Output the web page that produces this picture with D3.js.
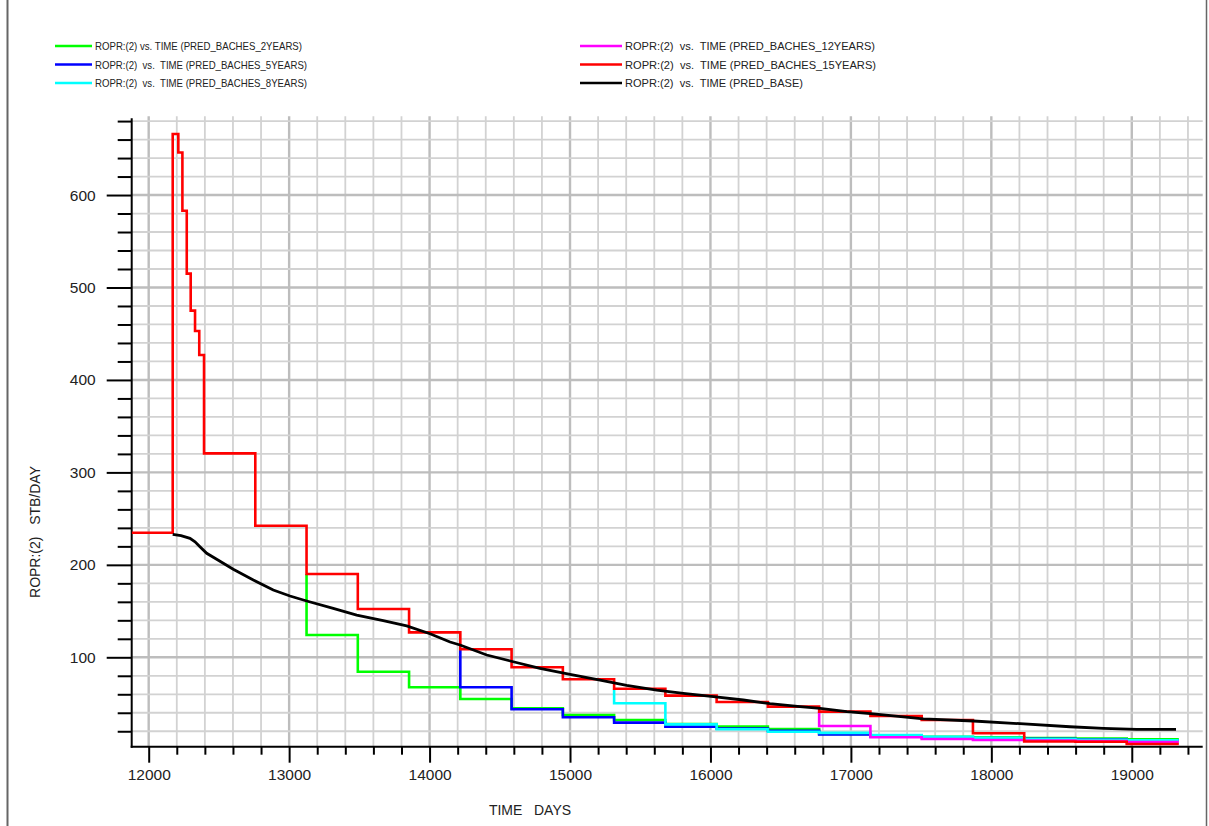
<!DOCTYPE html>
<html><head><meta charset="utf-8">
<script src="https://cdn.jsdelivr.net/npm/d3@7"></script>
<style>
body{margin:0;background:#fff}
svg{display:block}
text{font-family:"Liberation Sans",Arial,sans-serif;fill:#222}
</style>
</head><body>
<svg id="c" width="1209" height="826"></svg>
<script>
// ---------- DATA ----------
const seriesNames = [
  "ROPR:(2) vs. TIME (PRED_BACHES_2YEARS)",
  "ROPR:(2)  vs.  TIME (PRED_BACHES_5YEARS)",
  "ROPR:(2)  vs.  TIME (PRED_BACHES_8YEARS)",
  "ROPR:(2)  vs.  TIME (PRED_BACHES_12YEARS)",
  "ROPR:(2)  vs.  TIME (PRED_BACHES_15YEARS)",
  "ROPR:(2)  vs.  TIME (PRED_BASE)"
];
const seriesColors = ["#00ff00","#0000ff","#00ffff","#ff00ff","#ff0000","#000000"];

const xTickValues = [12000,13000,14000,15000,16000,17000,18000,19000];
const yTickValues = [100,200,300,400,500,600];
const xTitle = "TIME   DAYS";
const yTitle = "ROPR:(2)   STB/DAY";

const endDay = 19335;

// 2 years (step series; value holds from day onward)
const days2y  = [13124,13124,13489,13854,14219,14584,14949,15314,15679,16044,16409,16774,17139,17504,17869,18234,18599,18964];
const rate2y  = [190.1,124.1,84.4,67.6,54.9,44.8,37.6,32.2,27.9,25.0,22.3,17.1,15.2,14.1,13.4,12.6,12.0,11.3];
// 5 years
const days5y  = [14219,14219,14584,14949,15314,15679,16044,16409,16774,17139,17504,17869,18234,18599,18964];
const rate5y  = [108.7,67.6,43.8,35.1,29.3,25.0,23.0,20.5,16.5,14.5,13.5,12.5,11.8,11.0,10.3];
// 8 years
const days8y  = [15314,15314,15679,16044,16409,16774,17139,17504,17869,18234,18599,18964];
const rate8y  = [66.0,50.3,27.5,22.1,19.5,18.3,15.8,14.0,12.8,11.5,10.8,10.2];
// 12 years
const days12y = [16774,16774,17139,17504,17869,18234,18599,18964];
const rate12y = [41.2,25.7,13.5,11.6,10.6,10.0,9.5,8.2];
// 15 years
const days15y = [11879,12171,12211,12240,12271,12299,12330,12360,12394,12759,13124,13489,13854,14219,14584,14949,15314,15679,16044,16409,16774,17139,17504,17869,18234,18599,18964];
const rate15y = [234.7,666,646,583,515,475,453,427,320.6,242.3,190.1,152.2,127.0,108.7,89.2,76.2,66.0,58.5,51.7,46.6,41.2,36.5,32.2,17.8,9.0,8.7,6.2];
// base
const daysBase = [12171,12230,12294,12330,12365,12413,12484,12602,12745,12887,13006,13125,13314,13481,13670,13837,14003,14146,14217,14407,14596,14786,15000,15214,15403,15617,15807,16021,16234,16424,16638,16781,16971,17160,17516,17872,18157,18560,18798,19035,19315];
const rateBase = [233,231.5,228.7,225,219.6,212.5,206,195.2,183.6,172.8,166.3,160.9,153,145.7,139.6,133.9,125.5,116.5,113.3,102.5,95.2,88.1,81.6,75.4,69.5,64.6,61,57.4,53.8,49.8,46.6,44.8,41.2,38.7,33.3,31.1,28.6,24.9,23.2,22.1,22.1];

// ---------- CHART ----------
const svg = d3.select("#c");
const x = d3.scaleLinear().domain([11879, 19505]).range([131.7, 1202.7]);
const y = d3.scaleLinear().domain([3.3, 683]).range([746.7, 118.3]);
const X0 = x.range()[0], X1 = x.range()[1], Y0 = y.range()[0], Y1 = y.range()[1];

// frame
svg.append("line").attr("x1",7.5).attr("x2",7.5).attr("y1",0).attr("y2",826).attr("stroke","#666").attr("stroke-width",2);
svg.append("line").attr("x1",1206.5).attr("x2",1206.5).attr("y1",0).attr("y2",826).attr("stroke","#666").attr("stroke-width",1.5);

// grid
const vGrid = d3.range(12000, 19401, 200);
const hGrid = d3.range(20, 681, 20);
const g = svg.append("g");
g.selectAll(".vg").data(vGrid).join("line")
  .attr("x1",d=>x(d)).attr("x2",d=>x(d)).attr("y1",Y1-2).attr("y2",Y0)
  .attr("stroke",d=>d%1000===0?"#bdbdbd":"#d2d2d2").attr("stroke-width",d=>d%1000===0?2.4:1.8);
g.selectAll(".hg").data(hGrid).join("line")
  .attr("x1",X0).attr("x2",X1).attr("y1",d=>y(d)).attr("y2",d=>y(d))
  .attr("stroke",d=>d%100===0?"#bdbdbd":"#d2d2d2").attr("stroke-width",d=>d%100===0?2.4:1.8);

// axes
const xAxisMajor = d3.axisBottom(x).tickValues(xTickValues).tickSize(16).tickPadding(3).tickFormat(d3.format("d"));
const xAxisMinor = d3.axisBottom(x).tickValues(vGrid.filter(d=>d%1000!==0)).tickSize(8).tickFormat("");
const yAxisMajor = d3.axisLeft(y).tickValues(yTickValues).tickSize(25).tickPadding(11).tickFormat(d3.format("d"));
const yAxisMinor = d3.axisLeft(y).tickValues(hGrid.filter(d=>d%100!==0)).tickSize(14).tickFormat("");

function styleAxis(sel){
  sel.select(".domain").remove();
  sel.selectAll(".tick line").attr("stroke","#000").attr("stroke-width",2);
  sel.selectAll(".tick text").attr("fill","#222").style("font-size","15.5px").style("font-family","'Liberation Sans',Arial,sans-serif");
}
svg.append("g").attr("transform",`translate(0,${Y0})`).call(xAxisMinor).call(styleAxis);
svg.append("g").attr("transform",`translate(0,${Y0})`).call(xAxisMajor).call(styleAxis)
  .selectAll(".tick text").attr("dy","0.9em");
svg.append("g").attr("transform",`translate(${X0},0)`).call(yAxisMinor).call(styleAxis);
svg.append("g").attr("transform",`translate(${X0},0)`).call(yAxisMajor).call(styleAxis);

// axis lines
svg.append("line").attr("x1",X0).attr("x2",X0).attr("y1",Y1).attr("y2",Y0+1).attr("stroke","#000").attr("stroke-width",2);
svg.append("line").attr("x1",X0-1).attr("x2",X1).attr("y1",Y0).attr("y2",Y0).attr("stroke","#000").attr("stroke-width",2);

// titles
svg.append("text").attr("x",530).attr("y",815).attr("text-anchor","middle")
  .style("font-size","14px").style("white-space","pre").attr("xml:space","preserve").text(xTitle);
svg.append("text").attr("transform","translate(40,532) rotate(-90)").attr("text-anchor","middle")
  .style("font-size","14px").style("white-space","pre").attr("xml:space","preserve").text(yTitle);

// clip
svg.append("clipPath").attr("id","clip").append("rect")
  .attr("x",X0).attr("y",Y1-5).attr("width",X1-X0).attr("height",Y0-Y1+5);

const stepLine = d3.line().x(d=>x(d[0])).y(d=>y(d[1])).curve(d3.curveStepAfter);
const smoothLine = d3.line().x(d=>x(d[0])).y(d=>y(d[1]));

function stepPts(days, vals){
  const p = days.map((d,i)=>[d, vals[i]]);
  p.push([endDay, vals[vals.length-1]]);
  return p;
}
const stepSeries = [
  stepPts(days2y, rate2y),
  stepPts(days5y, rate5y),
  stepPts(days8y, rate8y),
  stepPts(days12y, rate12y),
  stepPts(days15y, rate15y)
];
const lines = svg.append("g").attr("clip-path","url(#clip)");
stepSeries.forEach((pts,i)=>{
  lines.append("path").attr("d",stepLine(pts)).attr("fill","none")
    .attr("stroke",seriesColors[i]).attr("stroke-width",2.6).attr("stroke-linejoin","miter");
});
lines.append("path").attr("d",smoothLine(daysBase.map((d,i)=>[d,rateBase[i]])))
  .attr("fill","none").attr("stroke",seriesColors[5]).attr("stroke-width",2.8);

// legend
const legPos = [
  {lx:55, tx:95, y:46, w:207},
  {lx:55, tx:95, y:64.5, w:212},
  {lx:55, tx:95, y:83, w:212},
  {lx:580, tx:625, y:46, w:250},
  {lx:580, tx:625, y:64.5, w:251},
  {lx:580, tx:625, y:83, w:178}
];
const leg = svg.append("g");
seriesNames.forEach((name,i)=>{
  const p = legPos[i];
  leg.append("line").attr("x1",p.lx).attr("x2",p.tx-3).attr("y1",p.y).attr("y2",p.y)
    .attr("stroke",seriesColors[i]).attr("stroke-width",2.6);
  leg.append("text").attr("x",p.tx).attr("y",p.y+4).style("font-size","11px")
    .attr("xml:space","preserve").style("white-space","pre")
    .attr("textLength",p.w).attr("lengthAdjust","spacingAndGlyphs").text(name);
});
</script>
</body></html>
